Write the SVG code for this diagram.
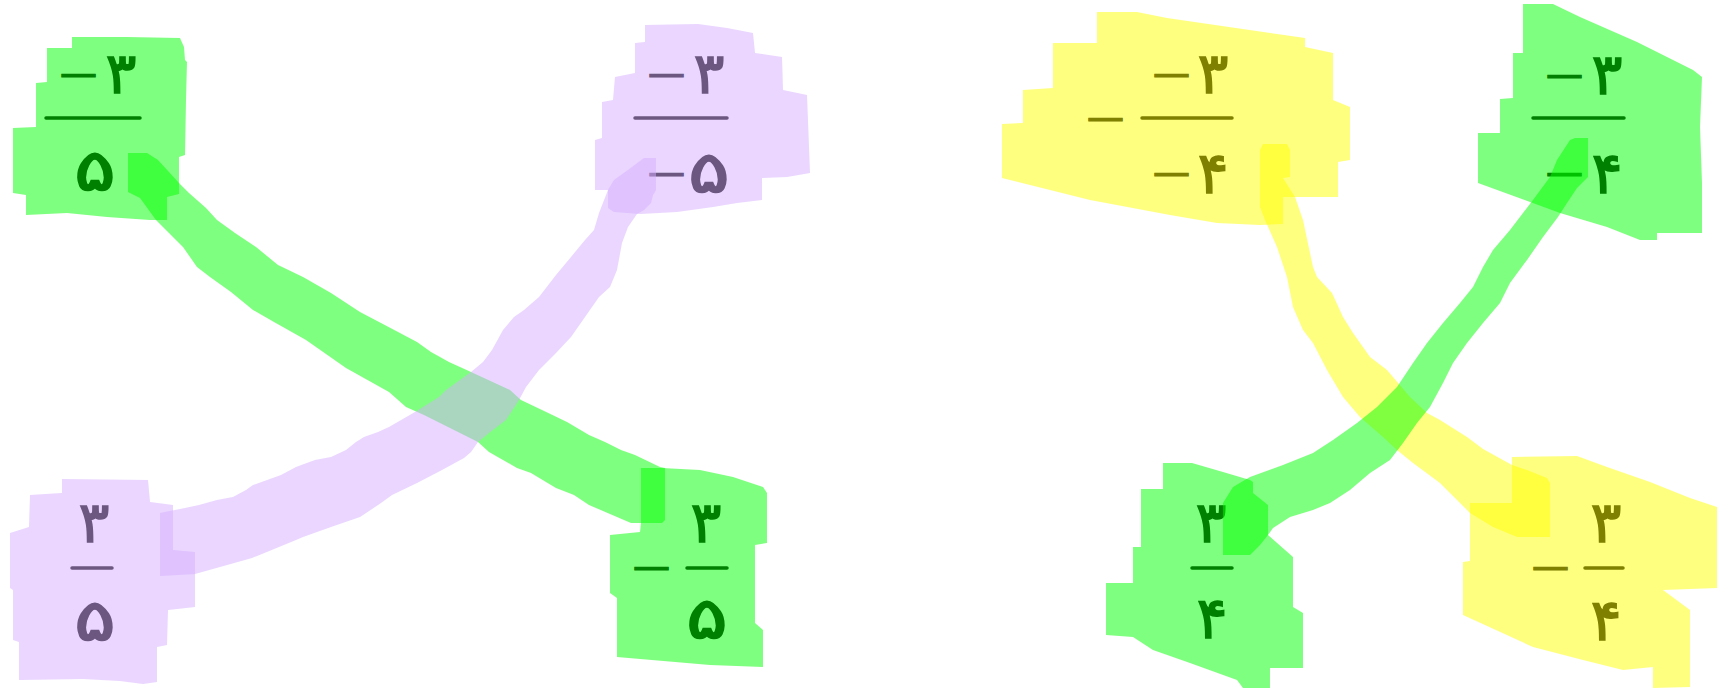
<svg xmlns="http://www.w3.org/2000/svg" width="1717" height="691" viewBox="0 0 1717 691">
<style>
.g{fill:rgba(0,255,0,0.5)}
.p{fill:rgba(213,173,255,0.5)}
.y{fill:rgba(255,255,0,0.5)}
text{font-family:"DejaVu Sans","Noto Sans",sans-serif;direction:ltr}
.n{font-size:57px;stroke-width:1.6px;text-anchor:middle}
.d{font-size:37px;stroke-width:1.2px}
.tg{fill:#008000;stroke:#008000}.tp{fill:#6b5780;stroke:#6b5780}.ty{fill:#808000;stroke:#808000}
.bg{stroke:#008000}.bp{stroke:#6b5780}.by{stroke:#808000}
line{stroke-width:3.5;stroke-linecap:round}
</style>
<rect width="1717" height="691" fill="#fff"/>
<g id="node1">
<path class="g" d="M72,37 L127,37 L180,38 L184,47 L185,60 L187,62 L186,100 L185,155 L179,157 L179,194 L167,197 L167,220 L150,220 L107,217 L67,213 L26,215 L26,195 L13,193 L13,128 L36,127 L36,83 L47,82 L47,48 L72,48 Z"/>
<text class="tg d" x="60" y="86">—</text>
<text class="tg n" x="121" y="93">۳</text>
<line class="bg" x1="46" y1="118" x2="140" y2="118"/>
<text class="tg n" transform="translate(95,190) scale(1.35,1)">۵</text>
</g>
<g id="node2">
<path class="p" d="M645,25 L698,24 L727,28 L753,33 L755,53 L782,57 L783,90 L807,95 L810,173 L787,177 L762,178 L762,200 L737,203 L713,207 L677,212 L640,214 L614,212 L608,208 L608,190 L595,190 L595,140 L602,138 L602,102 L613,100 L615,77 L635,73 L635,43 L645,42 Z"/>
<text class="tp d" x="648" y="86">—</text>
<text class="tp n" x="709" y="93">۳</text>
<line class="bp" x1="635" y1="118" x2="727" y2="118"/>
<text class="tp d" x="648" y="185">—</text>
<text class="tp n" transform="translate(709,192) scale(1.35,1)">۵</text>
</g>
<g id="node3">
<path class="p" d="M62,479 L148,480 L150,502 L173,505 L173,550 L195,552 L195,607 L168,610 L167,645 L157,647 L157,682 L143,684 L120,681 L83,679 L19,680 L19,642 L13,640 L13,590 L10,588 L10,533 L29,527 L30,495 L62,493 Z"/>
<text class="tp n" x="94" y="542">۳</text>
<line class="bp" x1="72" y1="568" x2="112" y2="568"/>
<text class="tp n" transform="translate(95,640) scale(1.35,1)">۵</text>
</g>
<g id="node4">
<path class="g" d="M662,468 L700,470 L733,477 L763,487 L767,493 L767,543 L755,545 L755,623 L763,630 L763,667 L710,665 L617,657 L617,598 L610,593 L610,535 L640,532 L641,523 L641,468 Z"/>
<text class="tg n" x="706" y="542">۳</text>
<text class="tg d" x="633" y="579">—</text>
<line class="bg" x1="687" y1="568" x2="727" y2="568"/>
<text class="tg n" transform="translate(707,638) scale(1.35,1)">۵</text>
</g>
<g id="node5">
<path class="y" d="M1097,12 L1137,12 L1167,18 L1305,38 L1305,47 L1333,53 L1333,100 L1350,107 L1350,160 L1338,162 L1338,197 L1283,197 L1283,224 L1260,225 L1217,223 L1170,215 L1090,200 L1002,178 L1002,124 L1023,123 L1023,90 L1053,88 L1053,43 L1097,43 Z"/>
<text class="ty d" x="1153" y="86">—</text>
<text class="ty n" x="1213" y="93">۳</text>
<text class="ty d" x="1087" y="130">—</text>
<line class="by" x1="1142" y1="118" x2="1232" y2="118"/>
<text class="ty d" x="1153" y="185">—</text>
<text class="ty n" x="1213" y="193">۴</text>
</g>
<g id="node6">
<path class="g" d="M1523,4 L1553,4 L1580,17 L1637,42 L1693,70 L1702,77 L1700,127 L1702,183 L1702,233 L1657,233 L1657,240 L1640,240 L1607,227 L1560,213 L1478,183 L1478,133 L1500,133 L1500,99 L1513,98 L1513,53 L1523,53 Z"/>
<text class="tg d" x="1546" y="87">—</text>
<text class="tg n" x="1607" y="94">۳</text>
<line class="bg" x1="1533" y1="118" x2="1624" y2="118"/>
<text class="tg d" x="1546" y="185">—</text>
<text class="tg n" x="1607" y="193">۴</text>
</g>
<g id="node7">
<path class="g" d="M1163,463 L1192,463 L1223,472 L1250,480 L1253,482 L1253,493 L1268,505 L1268,535 L1293,557 L1293,607 L1303,613 L1303,668 L1270,668 L1270,688 L1243,688 L1237,680 L1190,663 L1153,650 L1133,637 L1106,635 L1106,583 L1133,583 L1133,547 L1141,547 L1141,489 L1163,489 Z"/>
<text class="tg n" x="1211" y="542">۳</text>
<line class="bg" x1="1192" y1="568" x2="1232" y2="568"/>
<text class="tg n" x="1212" y="638">۴</text>
</g>
<g id="node8">
<path class="y" d="M1512,457 L1577,456 L1607,467 L1650,482 L1690,498 L1717,507 L1717,588 L1663,590 L1690,610 L1690,687 L1653,688 L1653,667 L1623,670 L1583,660 L1533,647 L1463,615 L1463,562 L1470,561 L1470,503 L1512,503 Z"/>
<text class="ty n" x="1606" y="542">۳</text>
<text class="ty d" x="1532" y="579">—</text>
<line class="by" x1="1585" y1="568" x2="1623" y2="568"/>
<text class="ty n" x="1606" y="640">۴</text>
</g>
<g id="connectors">
<path id="conA" class="g" d="M128,153 L147,153 L158,160 L179,183 L189,193 L206,208 L217,220 L235,233 L256,247 L278,265 L303,277 L331,293 L360,312 L381,323 L417,342 L431,352 L449,362 L471,372 L510,390 L521,400 L542,410 L567,422 L589,435 L605,442 L621,450 L635,455 L660,467 L665,468 L665,520 L662,523 L631,523 L617,517 L589,505 L574,495 L556,488 L531,473 L517,468 L489,452 L478,442 L424,415 L406,407 L389,392 L346,368 L306,340 L274,322 L253,310 L231,292 L210,277 L197,267 L183,247 L169,233 L156,220 L140,198 L128,192 Z"/>
<path id="conB" class="p" d="M644,158 L656,158 L656,190 L653,195 L651,203 L644,210 L637,214 L628,227 L622,243 L617,270 L610,287 L599,297 L592,307 L571,337 L556,353 L539,370 L526,387 L519,400 L506,420 L489,433 L478,442 L471,452 L464,458 L442,470 L417,483 L392,495 L381,503 L360,517 L331,527 L303,537 L296,540 L252,558 L220,567 L195,574 L160,576 L160,513 L185,508 L199,505 L217,500 L233,497 L246,490 L253,485 L281,475 L296,467 L315,460 L331,457 L346,450 L356,442 L364,437 L378,432 L389,427 L415,412 L439,397 L446,390 L471,372 L483,362 L492,350 L503,330 L514,317 L524,310 L539,297 L556,275 L571,257 L585,240 L594,230 L599,213 L608,190 L614,180 L628,170 Z"/>
<path id="conC" class="y" d="M1263,144 L1287,144 L1290,150 L1290,177 L1283,178 L1295,197 L1303,220 L1313,267 L1317,277 L1332,293 L1343,317 L1353,333 L1370,357 L1387,370 L1410,397 L1427,413 L1440,420 L1467,437 L1483,449 L1512,465 L1527,470 L1547,478 L1550,483 L1550,537 L1517,537 L1493,527 L1470,513 L1450,493 L1440,483 L1413,463 L1397,450 L1383,437 L1360,417 L1343,397 L1327,370 L1313,343 L1303,330 L1293,307 L1287,277 L1277,247 L1265,220 L1260,207 L1260,150 Z"/>
<path id="conD" class="g" d="M1223,503 L1233,487 L1250,477 L1283,465 L1313,453 L1333,440 L1357,423 L1377,407 L1397,387 L1413,363 L1427,343 L1443,323 L1460,303 L1473,287 L1483,267 L1493,250 L1510,230 L1523,213 L1533,200 L1550,177 L1557,160 L1570,140 L1575,138 L1588,138 L1588,177 L1577,188 L1567,203 L1558,217 L1543,237 L1527,260 L1510,283 L1500,303 L1483,323 L1467,343 L1453,363 L1443,383 L1430,407 L1417,423 L1403,443 L1390,460 L1370,473 L1350,490 L1330,503 L1313,510 L1290,517 L1273,528 L1268,535 L1260,545 L1250,555 L1223,555 Z"/>
</g>
</svg>
